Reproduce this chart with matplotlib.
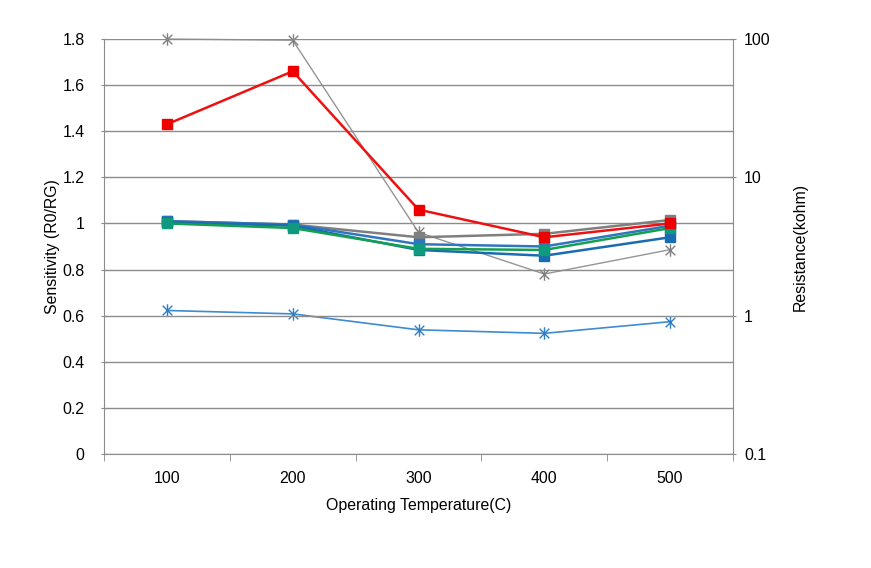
import matplotlib
matplotlib.use("Agg")
import matplotlib.pyplot as plt
from matplotlib.path import Path
import numpy as np

plt.rcParams['font.family'] = ['Liberation Sans', 'DejaVu Sans']

temps = ["100", "200", "300", "400", "500"]

# Sensitivity series (left axis)
sens_gray = [1.01, 0.995, 0.94, 0.955, 1.015]
sens_red = [1.43, 1.66, 1.06, 0.94, 1.00]
sens_blue = [1.01, 0.995, 0.91, 0.90, 0.99]
sens_green = [1.00, 0.98, 0.89, 0.885, 0.98]
sens_dblue = [1.005, 0.99, 0.885, 0.86, 0.94]

# Resistance series (right axis, kohm)
res_gray = [100, 98, 4.0, 2.0, 3.0]
res_blue = [1.09, 1.03, 0.79, 0.745, 0.905]

left_ticks = [0, 0.2, 0.4, 0.6, 0.8, 1.0, 1.2, 1.4, 1.6, 1.8]
left_labels = ["0", "0.2", "0.4", "0.6", "0.8", "1", "1.2", "1.4", "1.6", "1.8"]
right_ticks = [0.1, 1, 10, 100]
right_labels = ["0.1", "1", "10", "100"]

star = Path([(-1, -1), (1, 1), (-1, 1), (1, -1), (0, -1.3), (0, 1.3)],
            [Path.MOVETO, Path.LINETO, Path.MOVETO, Path.LINETO, Path.MOVETO, Path.LINETO])

fig = plt.figure(figsize=(8.71, 5.68), dpi=100)
ax = fig.add_axes([104/871, 1-454/568, (733-104)/871, (454-39)/568])
ax2 = ax.twinx()

x = np.arange(len(temps))
fs = 11.4

ax.set_zorder(2)
ax.patch.set_visible(False)

ax.plot(x, sens_gray, color="#7f7f7f", lw=1.8, marker="s", ms=7, mec="#7f7f7f", mfc="#7f7f7f", zorder=3)
ax.plot(x, sens_blue, color="#2f75c0", lw=1.8, marker="s", ms=7, mec="#2f75c0", mfc="#2f75c0", zorder=3)
ax.plot(x, sens_green, color="#14a050", lw=1.8, marker="s", ms=7, mec="#0f9a80", mfc="#0f9a80", zorder=4)
ax.plot(x, sens_dblue, color="#1a6cb0", lw=1.8, marker="s", ms=7, mec="#1a6cb0", mfc="#1a6cb0", zorder=3)
ax.plot(x, sens_red, color="#ee1111", lw=1.8, marker="s", ms=7, mec="#ee0000", mfc="#ee0000", zorder=5)

ax2.plot(x, res_gray, color="#959595", lw=1.0, marker=star, ms=9, mec="#808080", mew=1.0, clip_on=False)
ax2.plot(x, res_blue, color="#3d8bd0", lw=1.2, marker=star, ms=9, mec="#2f7fc8", mew=1.0, clip_on=False)

ax.set_xlim(-0.5, 4.5)
ax.set_ylim(0, 1.8)
ax2.set_yscale("log")
ax2.set_ylim(0.1, 100)

ax.set_yticks(left_ticks)
ax.set_yticklabels(left_labels, fontsize=fs)
ax.yaxis.grid(True, color="#8c8c8c", lw=1.0)
ax.set_axisbelow(True)

ax2.set_yticks(right_ticks)
ax2.set_yticklabels(right_labels, fontsize=fs)
ax2.yaxis.set_minor_locator(matplotlib.ticker.NullLocator())

ax.set_xticks(x)
ax.set_xticklabels(temps, fontsize=fs)
ax.set_xticks(np.arange(-0.5, 5, 1), minor=True)
ax.tick_params(axis="x", which="major", length=0, pad=12)
ax.tick_params(axis="x", which="minor", length=5, direction="out", color="#8c8c8c")
ax.tick_params(axis="y", length=4, direction="inout", color="#8c8c8c", pad=12)
ax2.tick_params(axis="y", length=4, direction="inout", color="#8c8c8c", pad=6)

for a in (ax, ax2):
    a.spines["top"].set_visible(False)
    for s in ("left", "right", "bottom"):
        a.spines[s].set_color("#8c8c8c")
ax.spines["right"].set_visible(False)
ax2.spines["left"].set_visible(False)
ax2.spines["bottom"].set_visible(False)

ax.set_xlabel("Operating Temperature(C)", fontsize=fs, labelpad=9)
ax.set_ylabel("Sensitivity (R0/RG)", fontsize=fs, labelpad=2)
ax2.set_ylabel("Resistance(kohm)", fontsize=fs, labelpad=16)

fig.savefig("out.png", dpi=100, facecolor="white")
